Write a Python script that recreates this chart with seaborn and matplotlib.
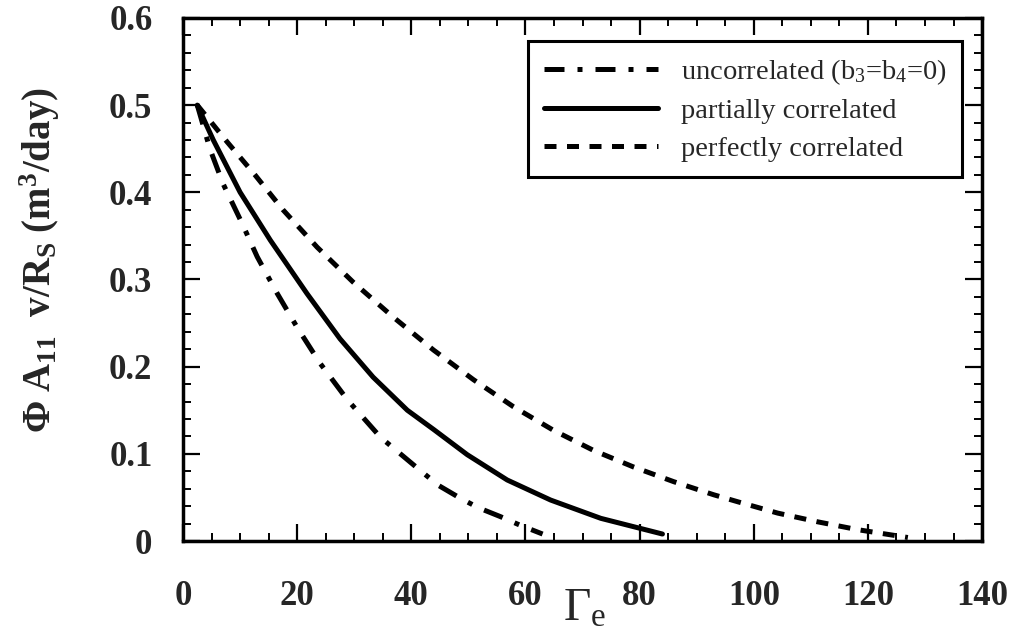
import numpy as np
import pandas as pd
import matplotlib
matplotlib.use('Agg')
import matplotlib.pyplot as plt
import seaborn as sns

# Valeurs
x_uncorr = [2.5, 4.7, 7, 10.3, 13, 16.5, 20, 24, 28.8, 34.6, 41, 44.7, 48.6, 51.8, 55.6, 59.1, 63]
y_uncorr = [0.50, 0.45, 0.41, 0.365, 0.326, 0.284, 0.245, 0.204, 0.162, 0.119, 0.084, 0.064,
            0.049, 0.038, 0.028, 0.018, 0.008]

x_partial = [2.5, 5.3, 10, 15.3, 21.7, 27.5, 33.3, 39.3, 43.9, 49.8, 56.8, 64.4, 73.2, 84]
y_partial = [0.50, 0.46, 0.40, 0.345, 0.284, 0.232, 0.188, 0.150, 0.128, 0.099, 0.070, 0.047,
             0.026, 0.008]

x_perfect = [2.5, 7.7, 12.6, 17.5, 23.5, 29.8, 36.8, 43.9, 50.9, 57.9, 64.9, 71.9, 78.9, 86,
             93, 97.2, 104.2, 111.2, 118.2, 127]
y_perfect = [0.50, 0.458, 0.42, 0.38, 0.337, 0.297, 0.257, 0.219, 0.185, 0.154, 0.127, 0.104,
             0.085, 0.068, 0.053, 0.045, 0.032, 0.022, 0.013, 0.004]

labels = ['uncorrelated (b$_3$=b$_4$=0)', 'partially correlated', 'perfectly correlated']
x_ticks = [0, 20, 40, 60, 80, 100, 120, 140]
y_ticks = [0, 0.1, 0.2, 0.3, 0.4, 0.5, 0.6]
y_ticklabels = ['0', '0.1', '0.2', '0.3', '0.4', '0.5', '0.6']

# Style
sns.set_style('ticks')
plt.rcParams['font.family'] = ['Liberation Serif', 'DejaVu Serif']
plt.rcParams['mathtext.fontset'] = 'custom'
plt.rcParams['mathtext.rm'] = 'Liberation Serif'
plt.rcParams['mathtext.it'] = 'Liberation Serif:italic'
plt.rcParams['mathtext.bf'] = 'Liberation Serif:bold'

fig = plt.figure(figsize=(10.14, 6.41), dpi=100)
ax = fig.add_axes([0.1805, 0.156, 0.788, 0.816])

lw = 3.6
sns.lineplot(x=x_uncorr, y=y_uncorr, color='black', linewidth=lw, sort=False,
             linestyle=(0, (4.0, 2.6, 1, 2.6)), label=labels[0], ax=ax)
sns.lineplot(x=x_partial, y=y_partial, color='black', linewidth=lw, sort=False,
             linestyle='-', label=labels[1], ax=ax)
sns.lineplot(x=x_perfect, y=y_perfect, color='black', linewidth=lw, sort=False,
             linestyle=(0, (2.4, 2.1)), label=labels[2], ax=ax)

ax.set_xlim(0, 140)
ax.set_ylim(0, 0.6)
ax.set_xticks(x_ticks)
ax.set_xticks(np.arange(0, 141, 5), minor=True)
ax.set_yticks(y_ticks)
ax.set_yticklabels(y_ticklabels)
ax.set_yticks(np.arange(0, 0.601, 0.02), minor=True)

ax.tick_params(which='both', direction='in', top=True, right=True, color='black')
ax.tick_params(which='major', length=12, width=1.6)
ax.tick_params(which='minor', length=6, width=1.4)
ax.tick_params(axis='x', which='major', pad=28, labelsize=25)
ax.tick_params(axis='y', which='major', pad=22, labelsize=25)
for lab in ax.get_xticklabels() + ax.get_yticklabels():
    lab.set_fontweight('bold')

for sp in ax.spines.values():
    sp.set_linewidth(2.5)
    sp.set_color('black')

ax.set_xlabel(r'$\mathrm{\Gamma}_{\mathrm{e}}$', fontsize=34)
ax.xaxis.set_label_coords(0.503, -0.09)
ax.set_ylabel(r'$\mathbf{\Phi\ A_{11}\ \ v/R_S\ (m^3/day)}$', fontsize=28)
ax.yaxis.set_label_coords(-0.152, 0.537)

leg = ax.legend(loc='upper right', bbox_to_anchor=(0.975, 0.955), borderaxespad=0,
                fontsize=20.5, frameon=True, fancybox=False, handlelength=4,
                handletextpad=0.8, borderpad=0.55, labelspacing=0.4)
leg.get_frame().set_edgecolor('black')
leg.get_frame().set_linewidth(2.2)
leg.get_frame().set_alpha(1)

fig.savefig('out.png', dpi=100)
